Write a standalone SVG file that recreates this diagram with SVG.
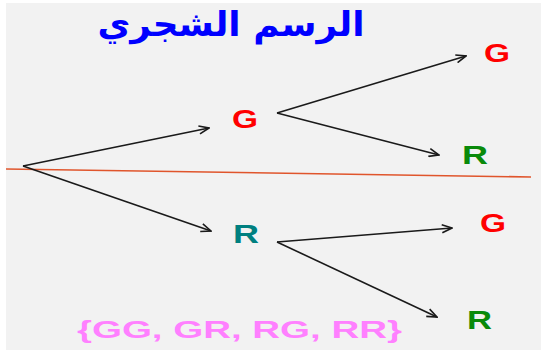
<svg xmlns="http://www.w3.org/2000/svg" width="546" height="352" viewBox="0 0 546 352">
<defs>
<marker id="arr" viewBox="0 0 12 10" refX="11" refY="5" markerWidth="12" markerHeight="10" markerUnits="userSpaceOnUse" orient="auto">
<path d="M1,1 L11,5 L1,9" fill="none" stroke="#1a1a1a" stroke-width="1.6"/>
</marker>
<style>
.edge{stroke:#1a1a1a;stroke-width:1.6;fill:none;marker-end:url(#arr)}
.lbl{font-family:"Liberation Sans",Arial,sans-serif;font-weight:bold;font-size:26px}
.g{fill:#ff0000}
.rg{fill:#0a8a0a}
.rt{fill:#008080}
</style>
</defs>
<rect x="0" y="0" width="546" height="352" fill="#ffffff"/>
<rect x="6" y="3" width="535" height="347" fill="#f2f2f2"/>
<text x="231" y="36" text-anchor="middle" direction="rtl" font-family="'DejaVu Sans',sans-serif" font-weight="bold" font-size="34" fill="#0000ff" textLength="267" lengthAdjust="spacingAndGlyphs">الرسم الشجري</text>
<line x1="6" y1="169" x2="531" y2="177" stroke="#e0552c" stroke-width="1.6"/>
<g id="connectors">
<line class="edge" x1="23" y1="166" x2="209" y2="128"/>
<line class="edge" x1="23" y1="166" x2="211" y2="231"/>
<line class="edge" x1="277" y1="113" x2="466" y2="56"/>
<line class="edge" x1="277" y1="113" x2="439" y2="155"/>
<line class="edge" x1="277" y1="242" x2="452" y2="228"/>
<line class="edge" x1="277" y1="242" x2="437" y2="317"/>
</g>
<g id="n-G1"><text class="lbl g" x="232" y="128" textLength="26" lengthAdjust="spacingAndGlyphs">G</text></g>
<g id="n-R1"><text class="lbl rt" x="233" y="243" textLength="26" lengthAdjust="spacingAndGlyphs">R</text></g>
<g id="n-GG"><text class="lbl g" x="484" y="62" textLength="26" lengthAdjust="spacingAndGlyphs">G</text></g>
<g id="n-GR"><text class="lbl rg" x="462" y="164" textLength="26" lengthAdjust="spacingAndGlyphs">R</text></g>
<g id="n-RG"><text class="lbl g" x="480" y="232" textLength="26" lengthAdjust="spacingAndGlyphs">G</text></g>
<g id="n-RR"><text class="lbl rg" x="467" y="329" textLength="25" lengthAdjust="spacingAndGlyphs">R</text></g>
<text x="77" y="338" font-family="'Liberation Sans',Arial,sans-serif" font-weight="bold" font-size="24" fill="#ff80ff" textLength="325" lengthAdjust="spacingAndGlyphs">{GG, GR, RG, RR}</text>
</svg>
